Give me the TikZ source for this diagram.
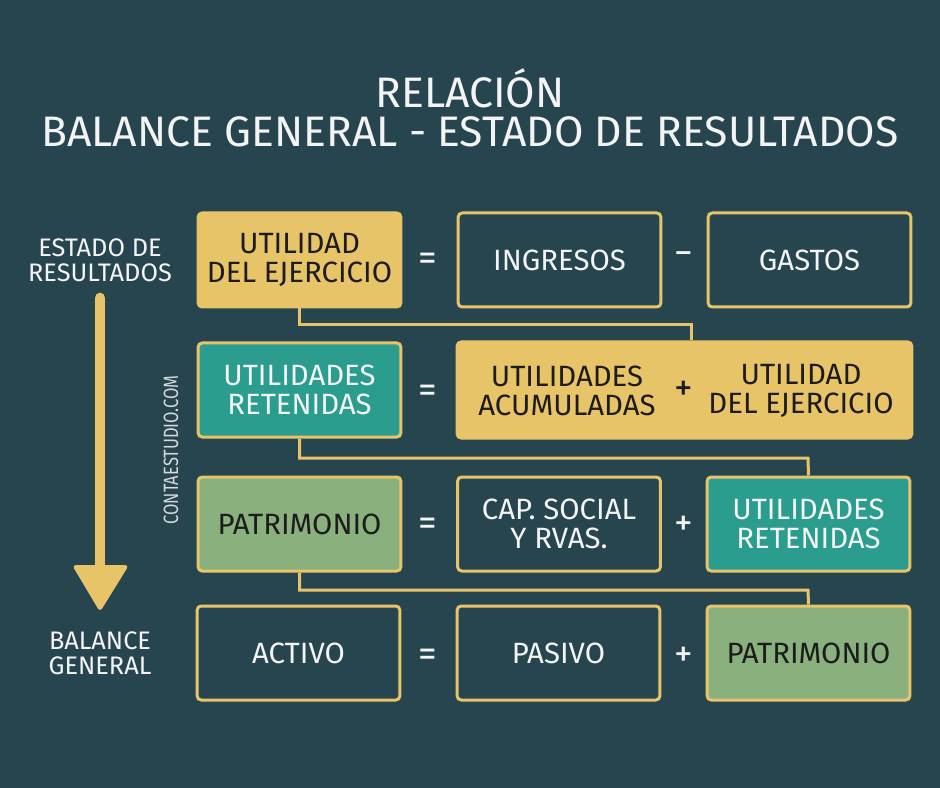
\documentclass[tikz,border=0pt]{standalone}
\usepackage{fontspec}
\setmainfont{Fira Sans}
\newfontfamily\narrowfont{Fira Sans}[FakeStretch=0.8]
\definecolor{bg}{HTML}{27454F}
\definecolor{gold}{HTML}{E8C468}
\definecolor{tealc}{HTML}{2A9D8F}
\definecolor{sage}{HTML}{8AB17D}
\definecolor{ink}{HTML}{1C1C1C}
\definecolor{paper}{HTML}{F4F4F4}
\tikzset{
  box/.style={draw=gold, line width=2.25pt, rounded corners=3pt, minimum height=70.5pt,
    minimum width=152pt, align=center, inner sep=0pt, font=\fontsize{22}{22}\selectfont},
  darkbox/.style={box, fill=bg, text=paper},
  goldbox/.style={box, fill=gold, text=ink},
  tealbox/.style={box, fill=tealc, text=paper},
  sagebox/.style={box, fill=sage, text=ink},
  op/.style={text=paper, font=\fontsize{28}{28}\selectfont},
  conn/.style={draw=gold, line width=2.25pt},
  side/.style={text=paper, align=center, font=\fontsize{19}{19}\selectfont},
  titletext/.style={text=paper, anchor=base, inner sep=0pt, font=\fontsize{32}{32}\selectfont},
}
\begin{document}
\begin{tikzpicture}[x=0.75pt,y=-0.75pt]
\fill[bg] (0,0) rectangle (940,788);
\useasboundingbox (0,0) rectangle (940,788);

% title
\node[titletext] (title1) at (470,108) {RELACIÓN};
\node[titletext] (title2) at (470,147) {BALANCE GENERAL - ESTADO DE RESULTADOS};

% row 1
\node[goldbox] (a1) at (299.5,260) {UTILIDAD\\DEL EJERCICIO};
\node[darkbox] (a2) at (559.5,260) {INGRESOS};
\node[darkbox] (a3) at (809.5,260) {GASTOS};
\node[op] (e1) at (428,262) {=};
\node[op] (m1) at (684,259) {−};

% row 2
\node[tealbox] (b1) at (299.5,390) {UTILIDADES\\RETENIDAS};
\node[goldbox, minimum width=341pt, minimum height=72pt] (b2) at (684.5,390) {};
\node[text=ink, align=center, font=\fontsize{22}{22}\selectfont] (b2l) at (567,391) {UTILIDADES\\ACUMULADAS};
\node[text=ink, align=center, font=\fontsize{22}{22}\selectfont] (b2r) at (801,391) {UTILIDAD\\DEL EJERCICIO};
\node[text=ink, font=\fontsize{28}{28}\selectfont] (p2) at (684,391) {+};
\node[op] (e2) at (428,394) {=};

% row 3
\node[sagebox] (c1) at (299.5,524) {PATRIMONIO};
\node[darkbox] (c2) at (559,524) {CAP. SOCIAL\\Y RVAS.};
\node[tealbox] (c3) at (808.5,524) {UTILIDADES\\RETENIDAS};
\node[op] (e3) at (428,527) {=};
\node[op] (p3) at (684,526) {+};

% row 4
\node[darkbox] (d1) at (298.5,653) {ACTIVO};
\node[darkbox] (d2) at (558.5,653) {PASIVO};
\node[sagebox] (d3) at (808.5,653) {PATRIMONIO};
\node[op] (e4) at (428,658) {=};
\node[op] (p4) at (684,657) {+};

% connectors
\coordinate (k1) at (691,325);
\coordinate (k2) at (808,458);
\coordinate (k3) at (808,590);
\draw[conn] (a1.south) |- (k1) -- (k1 |- b2.north);
\draw[conn] (b1.south) |- (k2) -- (c3.north);
\draw[conn] (c1.south) |- (k3) -- (d3.north);

% left side
\node[side] (er) at (100,260) {ESTADO DE\\RESULTADOS};
\node[side] (bg) at (100,653) {BALANCE\\GENERAL};
\coordinate (arrtop) at (100,298);
\coordinate (arrbase) at (100,570);
\coordinate (arrtip) at (100,612);
\draw[gold, line width=8pt, line cap=round] (arrtop) -- (arrbase);
\fill[gold, rounded corners=3pt] (72,565) -- (129,565) -- (arrtip) -- cycle;

\node[rotate=90, text=paper!85!bg, font=\narrowfont\fontsize{15.5}{16}\selectfont] (web) at (171,450) {CONTAESTUDIO.COM};
\end{tikzpicture}
\end{document}
